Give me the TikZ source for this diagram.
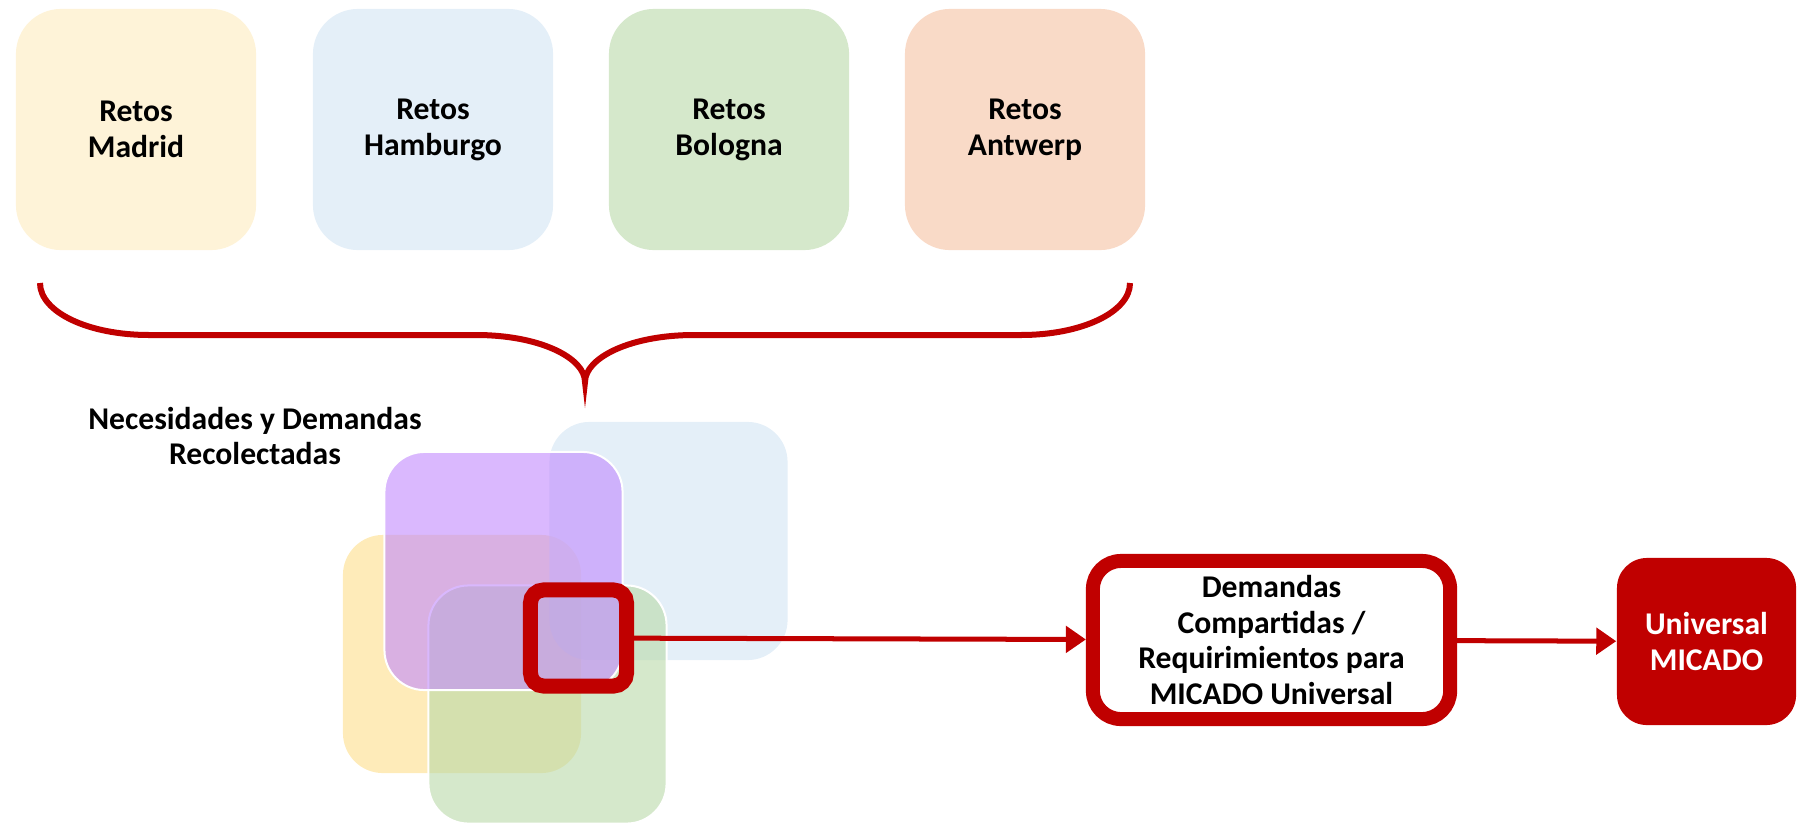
\documentclass[tikz,border=0pt]{standalone}
\usepackage{fontspec}
\setmainfont{Carlito}
\usetikzlibrary{arrows.meta}

\definecolor{micred}{HTML}{C00000}
\definecolor{retoY}{HTML}{FEF3D8}
\definecolor{retoB}{HTML}{E4EFF8}
\definecolor{retoG}{HTML}{D5E8CB}
\definecolor{retoO}{HTML}{F9DAC7}
\definecolor{capaY}{HTML}{FDDE8A}
\definecolor{capaP}{HTML}{C189FD}
\definecolor{capaG}{HTML}{B9D9A8}
\definecolor{capaB}{HTML}{D2E4F3}

\begin{document}
\begin{tikzpicture}[x=0.01cm, y=-0.01cm,
  txt/.style={align=center, font=\bfseries\fontsize{9}{10.2}\selectfont},
  reto/.style={txt, rounded corners=0.45cm, minimum width=2.4cm, minimum height=2.41cm, inner sep=0pt},
  capa/.style={rounded corners=0.4cm, minimum width=2.38cm, minimum height=2.38cm, inner sep=0pt, fill opacity=0.6},
  flecha/.style={micred, line width=0.05cm, -{Triangle[length=0.2cm,width=0.26cm]}}]
\useasboundingbox (0,0) rectangle (1798,824);

% retos de cada ciudad
\node[reto, fill=retoY] (madrid)   at (136,129.5)  {Retos\\Madrid};
\node[reto, fill=retoB] (hamburgo) at (433,129.5)  {Retos\\Hamburgo};
\node[reto, fill=retoG] (bologna)  at (729,129.5)  {Retos\\Bologna};
\node[reto, fill=retoO] (antwerp)  at (1025,129.5) {Retos\\Antwerp};

% llave
\draw[micred, line width=0.06cm] (40,283) .. controls (40,312) and (88,335) .. (149,335) -- (476,335)
   .. controls (540,335) and (585,358) .. (585,382)
   .. controls (585,358) and (630,335) .. (694,335) -- (1021,335)
   .. controls (1082,335) and (1130,312) .. (1130,283);

\node[txt] (recol) at (255,436) {Necesidades y Demandas\\Recolectadas};

% capas superpuestas
\node[capa, fill=capaY] (capaY) at (462,654) {};
\node[capa, fill=capaB] (capaB) at (668.5,541) {};
\node[capa, fill=capaG, draw=white, line width=0.02cm] (capaG) at (547.5,704.5) {};
\node[capa, fill=capaP, draw=white, line width=0.02cm] (capaP) at (503.5,571) {};

\node[draw=micred, line width=0.15cm, rounded corners=0.13cm, minimum size=0.96cm, inner sep=0pt] (comun) at (578.5,638) {};

% resultado
\node[txt, draw=micred, fill=white, line width=0.14cm, rounded corners=0.28cm, minimum width=3.57cm, minimum height=1.58cm, inner sep=0pt] (demandas) at (1271.5,640)
  {Demandas\\Compartidas /\\Requirimientos para\\MICADO Universal};
\node[txt, text=white, fill=micred, rounded corners=0.3cm, minimum width=1.79cm, minimum height=1.67cm, inner sep=0pt] (universal) at (1706.5,641.5)
  {Universal\\MICADO};

\draw[flecha] (comun) -- (demandas);
\draw[flecha] (demandas) -- (universal);

\end{tikzpicture}
\end{document}
